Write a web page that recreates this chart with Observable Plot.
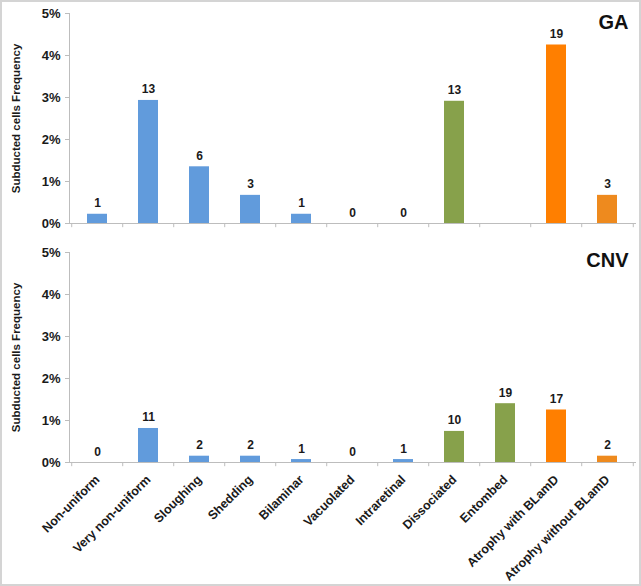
<!DOCTYPE html>
<html>
<head>
<meta charset="utf-8">
<script src="https://cdn.jsdelivr.net/npm/d3@7"></script>
<script src="https://cdn.jsdelivr.net/npm/@observablehq/plot@0.6"></script>
<style>
  html, body { margin: 0; padding: 0; background: #fff; }
  #wrap { position: relative; width: 641px; height: 586px; overflow: hidden; background: #fff; }
  #wrap svg { display: block; }
  #frame { position: absolute; left: 0; top: 0; width: 641px; height: 586px; box-sizing: border-box; border: 2px solid #d4d4d4; pointer-events: none; }
</style>
</head>
<body>
<div id="wrap"><div id="frame"></div></div>
<script>
// ---- data ----
const categories = ["Non-uniform", "Very non-uniform", "Sloughing", "Shedding", "Bilaminar", "Vacuolated", "Intraretinal", "Dissociated", "Entombed", "Atrophy with BLamD", "Atrophy without BLamD"];
const gaPercent  = [0.22, 2.93, 1.35, 0.67, 0.22, 0, 0, 2.91, null, 4.25, 0.67];
const gaCount    = [1, 13, 6, 3, 1, 0, 0, 13, null, 19, 3];
const cnvPercent = [0, 0.81, 0.15, 0.15, 0.07, 0, 0.07, 0.74, 1.40, 1.25, 0.15];
const cnvCount   = [0, 11, 2, 2, 1, 0, 1, 10, 19, 17, 2];
const yTicks = [0, 1, 2, 3, 4, 5];
const panelNames = ["GA", "CNV"];

// ---- styles ----
const barColors = ["#619bdc", "#619bdc", "#619bdc", "#619bdc", "#619bdc", "#619bdc", "#619bdc", "#87a14b", "#87a14b", "#ff7f00", "#ee8a1e"];
const axisGray = "#bdbdbd";
const textColor = "#1a1a1a";
const font = "Arial, 'Liberation Sans', sans-serif";

function panel(name, pct, cnt, opts) {
  const rows = categories.map((c, i) => ({category: c, pct: pct[i], count: cnt[i], color: barColors[i]}))
    .filter(d => d.pct != null);
  const step = (641 - 69 - 5) / categories.length;
  return Plot.plot({
    width: 641,
    height: opts.height,
    marginLeft: 69,
    marginRight: 5,
    marginTop: opts.marginTop,
    marginBottom: opts.marginBottom,
    style: {fontFamily: font, fontSize: "12px", fontWeight: "bold", color: textColor, background: "transparent"},
    x: {domain: categories, paddingInner: 0.6, paddingOuter: 0.3},
    y: {domain: [0, 5]},
    color: {type: "identity"},
    marks: [
      Plot.frame({anchor: "left", stroke: axisGray}),
      Plot.ruleY([0], {stroke: axisGray}),
      Plot.ruleX(categories, {x: d => d, dx: -step / 2, y1: 0, y2: -0.1, stroke: axisGray}),
      Plot.ruleX(categories.slice(-1), {x: d => d, dx: step / 2, y1: 0, y2: -0.1, stroke: axisGray}),
      Plot.barY(rows, {x: "category", y: "pct", fill: "color"}),
      Plot.text(rows, {x: "category", y: "pct", text: d => String(d.count), dy: -7, lineAnchor: "bottom", fontSize: 12, fontWeight: "bold", fill: textColor}),
      Plot.axisY({ticks: yTicks, tickFormat: d => d + "%", tickSize: 4, tickPadding: 5, stroke: axisGray, fill: textColor, fontSize: 13,
        label: "Subducted cells Frequency", labelAnchor: "center", labelOffset: 58, labelArrow: "none"}),
      opts.showX
        ? Plot.axisX({tickRotate: -45, tickSize: 0, tickPadding: 15, fill: textColor, fontSize: 12.5, label: null})
        : Plot.axisX({ticks: [], label: null}),
      Plot.text([name], {frameAnchor: "top-right", dx: -8, dy: opts.nameDy, lineAnchor: "middle", fontSize: 20, fontWeight: "bold", fill: "#111"})
    ]
  });
}

const wrap = document.getElementById("wrap");
const frame = document.getElementById("frame");
wrap.insertBefore(panel(panelNames[0], gaPercent, gaCount, {height: 240, marginTop: 13, marginBottom: 17, showX: false, nameDy: 9}), frame);
wrap.insertBefore(panel(panelNames[1], cnvPercent, cnvCount, {height: 346, marginTop: 12, marginBottom: 124, showX: true, nameDy: 8}), frame);
// slightly smaller y-axis titles, as in the reference
wrap.querySelectorAll("svg [aria-label='y-axis label'] text").forEach(t => t.setAttribute("font-size", "11.5"));
</script>
</body>
</html>
